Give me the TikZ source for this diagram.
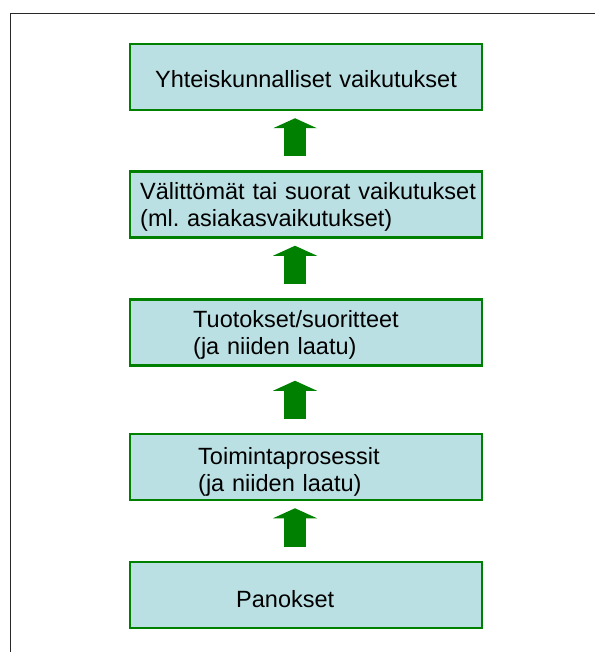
\documentclass[tikz,border=0pt]{standalone}
\usepackage{fontspec}
\setmainfont{Liberation Sans}
\frenchspacing
\usetikzlibrary{arrows.meta,calc}
\definecolor{boxfill}{RGB}{187,224,227}
\definecolor{boxline}{RGB}{0,128,0}
\definecolor{framegray}{RGB}{40,40,40}
\tikzset{
  stagebox/.style={draw=boxline, fill=boxfill, line width=2.5pt,
    minimum width=352pt, minimum height=66pt, inner sep=0pt},
  stagetext/.style={inner sep=0pt, font=\fontsize{23.5}{27}\selectfont,
    text width=345pt, align=left, anchor=base west},
  uparrow/.style={draw=boxline, line width=22pt,
    -{Triangle[width=44pt,length=10pt,line width=0pt]},
    shorten <=14pt, shorten >=7pt}
}
\begin{document}
\begin{tikzpicture}[x=1pt,y=-1pt]
  \useasboundingbox (0,0) rectangle (595,652);
  % open frame: only the left and top edges show
  \draw[framegray, line width=1.8pt] (10.5,652) -- (10.5,13.5) -- (595,13.5);

  % stages, from outcome (top) to inputs (bottom)
  \node[stagebox] (b1) at (306,77)    {};
  \node[stagebox] (b2) at (306,204.5) {};
  \node[stagebox] (b3) at (306,332.5) {};
  \node[stagebox] (b4) at (306,467)   {};
  \node[stagebox] (b5) at (306,595)   {};

  \node[stagetext, text width=310pt, align=center, anchor=base] (t1) at (306,88)
    {Yhteiskunnalliset vaikutukset};
  \node[stagetext] (t2) at (140,200)
    {Välittömät tai suorat vaikutukset\\(ml. asiakasvaikutukset)};
  \node[stagetext] (t3) at (193,327)
    {Tuotokset/suoritteet\\(ja niiden laatu)};
  \node[stagetext] (t4) at (198,464)
    {Toimintaprosessit\\(ja niiden laatu)};
  \node[stagetext] (t5) at (236,607) {Panokset};

  % block arrows between stages
  \coordinate (ax) at (295,0);
  \draw[uparrow] (b2.north -| ax) -- (b1.south -| ax);
  \draw[uparrow] (b3.north -| ax) -- (b2.south -| ax);
  \draw[uparrow, shorten >=14pt] (b4.north -| ax) -- (b3.south -| ax);
  \draw[uparrow] (b5.north -| ax) -- (b4.south -| ax);
\end{tikzpicture}
\end{document}
